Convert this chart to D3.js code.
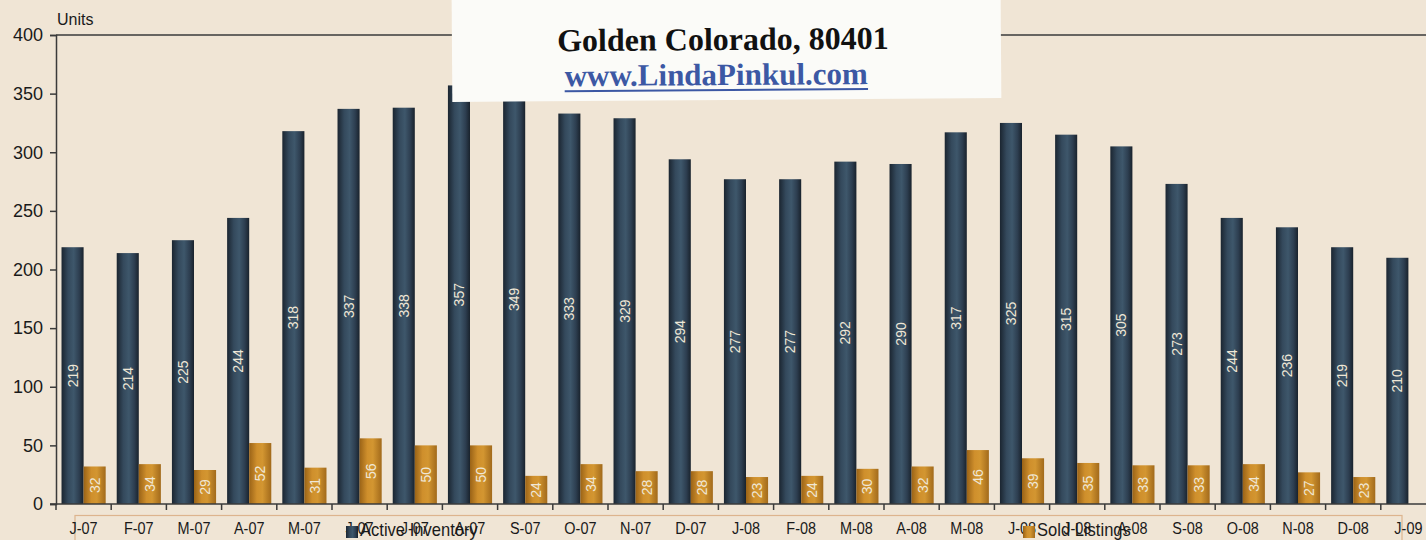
<!DOCTYPE html>
<html>
<head>
<meta charset="utf-8">
<script src="https://cdn.jsdelivr.net/npm/d3@7"></script>
<style>
	body { margin: 0; background: #f0e5d5; }
	svg { display: block; }
</style>
</head>
<body>
<div id="chart"></div>
<script>
;(function(){
	var w = 1426;
	var h = 540;

	// data
	var months = ["J-07","F-07","M-07","A-07","M-07","J-07","J-07","A-07","S-07","O-07","N-07","D-07",
		"J-08","F-08","M-08","A-08","M-08","J-08","J-08","A-08","S-08","O-08","N-08","D-08","J-09"];
	var active = [219,214,225,244,318,337,338,357,349,333,329,294,277,277,292,290,317,325,315,305,273,244,236,219,210];
	var sold = [32,34,29,52,31,56,50,50,24,34,28,28,23,24,30,32,46,39,35,33,33,34,27,23,null];
	var yticks = [0,50,100,150,200,250,300,350,400];
	var series = ["Active Inventory","Sold Listings"];

	var x0 = 56, step = 55.2;
	var ytop = 35, ybottom = 504;

	var svg = d3.select("#chart").append("svg")
		.attr("width", w)
		.attr("height", h);

	var defs = svg.append("defs");
	function grad(id, stops){
		var g = defs.append("linearGradient").attr("id", id)
			.attr("x1", "0%").attr("x2", "100%").attr("y1", "0%").attr("y2", "0%");
		stops.forEach(function(s){
			g.append("stop").attr("offset", s[0]).attr("stop-color", s[1]);
		});
	}
	grad("gActive", [["0%","#1b2530"],["30%","#34495c"],["55%","#3e576b"],["80%","#2d3e50"],["100%","#19222c"]]);
	grad("gSold", [["0%","#9a6317"],["35%","#cf8f2c"],["60%","#d39631"],["100%","#a26a1b"]]);

	svg.append("rect").attr("width", w).attr("height", h).attr("fill", "#f0e5d5");

	// scales
	var idx = d3.range(months.length);
	var xscale = d3.scaleBand()
		.domain(idx)
		.range([x0, x0 + step * months.length])
		.paddingInner(0).paddingOuter(0);
	var xsub = d3.scaleBand()
		.domain(series)
		.range([0, xscale.bandwidth()])
		.paddingInner(0).paddingOuter(0.25);
	var yscale = d3.scaleLinear()
		.domain([0, 400])
		.range([ybottom, ytop]);

	// plot frame top + y axis
	svg.append("line")
		.attr("x1", x0).attr("x2", w)
		.attr("y1", yscale(400)).attr("y2", yscale(400))
		.attr("stroke", "#3a3a3a").attr("stroke-width", 1.5);

	var yaxis = d3.axisLeft(yscale).tickValues(yticks).tickSize(6).tickPadding(7);
	var gy = svg.append("g")
		.attr("transform", "translate(" + x0 + ",0)")
		.call(yaxis);
	gy.select(".domain").attr("stroke", "#3a3a3a").attr("stroke-width", 1.5);
	gy.selectAll(".tick line").attr("stroke", "#3a3a3a").attr("stroke-width", 1.5);
	gy.selectAll(".tick text")
		.attr("fill", "#1a1a1a")
		.style("font-family", "'Liberation Sans', Arial, sans-serif")
		.style("font-size", "18px");

	svg.append("text")
		.attr("x", 57).attr("y", 25)
		.attr("fill", "#1a1a1a")
		.style("font-family", "'Liberation Sans', Arial, sans-serif")
		.style("font-size", "16px")
		.text("Units");

	// bars
	var rows = idx.map(function(i){
		return [
			{i: i, key: series[0], v: active[i]},
			{i: i, key: series[1], v: sold[i]}
		];
	});

	var groups = svg.selectAll("g.month")
		.data(rows)
		.enter().append("g")
			.attr("class", "month")
			.attr("transform", function(d, i){ return "translate(" + xscale(i) + ",0)"; });

	var bars = groups.selectAll("g.bar")
		.data(function(d){ return d.filter(function(e){ return e.v != null; }); })
		.enter().append("g")
			.attr("class", "bar");

	bars.append("rect")
		.attr("x", function(d){ return xsub(d.key); })
		.attr("y", function(d){ return yscale(d.v); })
		.attr("width", xsub.bandwidth())
		.attr("height", function(d){ return yscale(0) - yscale(d.v); })
		.attr("fill", function(d){ return d.key == series[0] ? "url(#gActive)" : "url(#gSold)"; });

	bars.append("text")
		.attr("transform", function(d){
			var cx = xsub(d.key) + xsub.bandwidth() / 2;
			var cy = (yscale(d.v) + yscale(0)) / 2;
			return "translate(" + cx + "," + cy + ") rotate(-90)";
		})
		.attr("text-anchor", "middle")
		.attr("dy", "0.36em")
		.attr("fill", "#efe7d6")
		.style("font-family", "'Liberation Sans', Arial, sans-serif")
		.style("font-size", "14px")
		.text(function(d){ return d.v; });

	// x axis
	svg.append("line")
		.attr("x1", x0 - 6).attr("x2", w)
		.attr("y1", yscale(0)).attr("y2", yscale(0))
		.attr("stroke", "#3a3a3a").attr("stroke-width", 1.5);

	svg.selectAll("line.x-tick")
		.data(idx)
		.enter().append("line")
			.attr("class", "x-tick")
			.attr("x1", function(i){ return xscale(i); })
			.attr("x2", function(i){ return xscale(i); })
			.attr("y1", yscale(0)).attr("y2", yscale(0) + 6)
			.attr("stroke", "#3a3a3a").attr("stroke-width", 1.5);

	// legend frame (sits under the month labels in the scan)
	svg.append("rect")
		.attr("x", 75).attr("y", 515.5)
		.attr("width", 1327).attr("height", 40)
		.attr("fill", "none")
		.attr("stroke", "#ddb48e").attr("stroke-width", 1.2);

	svg.selectAll("text.x-label")
		.data(idx)
		.enter().append("text")
			.attr("class", "x-label")
			.attr("transform", function(i){
				return "translate(" + (xscale(i) + xscale.bandwidth() / 2) + ",534) scale(0.85,1)";
			})
			.attr("text-anchor", "middle")
			.attr("fill", "#1a1a1a")
			.style("font-family", "'Liberation Sans', Arial, sans-serif")
			.style("font-size", "17px")
			.text(function(i){ return months[i]; });

	var legendPos = [346, 1023];
	var legend = svg.selectAll("g.legend")
		.data(series)
		.enter().append("g")
			.attr("class", "legend")
			.attr("transform", function(d, i){ return "translate(" + legendPos[i] + ",0)"; });
	legend.append("rect")
		.attr("x", 0).attr("y", 526)
		.attr("width", 12).attr("height", 12)
		.attr("fill", function(d, i){ return i == 0 ? "url(#gActive)" : "url(#gSold)"; });
	legend.append("text")
		.attr("transform", "translate(14,536) scale(0.92,1)")
		.attr("fill", "#1a1a1a")
		.style("font-family", "'Liberation Sans', Arial, sans-serif")
		.style("font-size", "18px")
		.text(function(d){ return d; });

	// pasted-on title slip
	var slip = svg.append("g")
		.attr("transform", "rotate(-0.4,726,50)");
	slip.append("rect")
		.attr("x", 452).attr("y", -4)
		.attr("width", 549).attr("height", 104)
		.attr("fill", "#fbfbf8");
	slip.append("text")
		.attr("x", 723).attr("y", 50)
		.attr("text-anchor", "middle")
		.attr("fill", "#111")
		.style("font-family", "'Liberation Serif', 'Times New Roman', serif")
		.style("font-weight", "bold")
		.style("font-size", "32px")
		.text("Golden Colorado, 80401");
	var url = slip.append("text")
		.attr("x", 716).attr("y", 85)
		.attr("text-anchor", "middle")
		.attr("fill", "#3c58a4")
		.style("font-family", "'Liberation Serif', 'Times New Roman', serif")
		.style("font-weight", "bold")
		.style("font-size", "31px")
		.text("www.LindaPinkul.com");
	var bb = url.node().getBBox();
	slip.append("line")
		.attr("x1", bb.x).attr("x2", bb.x + bb.width)
		.attr("y1", 90).attr("y2", 90)
		.attr("stroke", "#3c58a4").attr("stroke-width", 2);
})();
</script>
</body>
</html>
